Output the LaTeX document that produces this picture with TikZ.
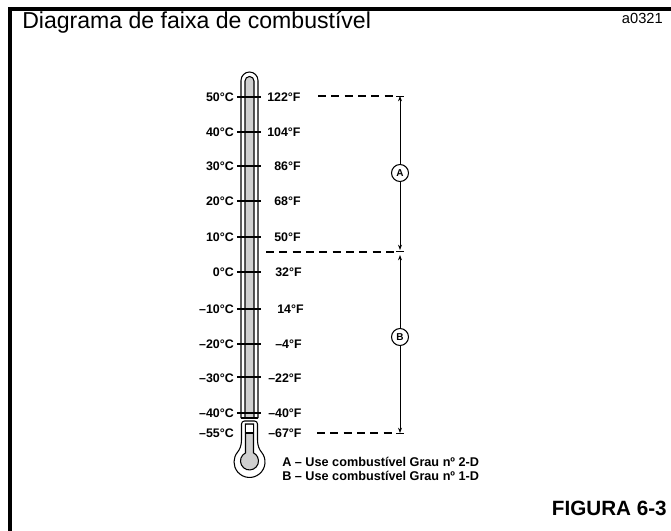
\documentclass[tikz,border=0pt]{standalone}
\usepackage{fontspec}
\setmainfont{Liberation Sans}
\usetikzlibrary{arrows.meta}
\begin{document}
\begin{tikzpicture}[x=0.75pt,y=-0.75pt]
\useasboundingbox (0,0) rectangle (671,531);
\tikzset{
  frameline/.style={line width=2.3pt},
  clab/.style={anchor=east, inner sep=0pt, font=\bfseries\fontsize{9.3}{11}\selectfont},
  flab/.style={anchor=west, inner sep=0pt, font=\bfseries\fontsize{9.3}{11}\selectfont},
  tickline/.style={line width=1.1pt},
  tube/.style={line width=0.8pt},
  guide/.style={dash pattern=on 6pt off 4pt, line width=0.8pt},
  dimline/.style={line width=0.6pt},
  tipstyle/.style={>={Stealth[length=4pt,width=3pt]}},
  lettercirc/.style={circle, draw, fill=white, minimum size=12.75pt, inner sep=0pt, line width=0.8pt, font=\bfseries\fontsize{7.5}{8}\selectfont},
  stipple/.style={fill=gray!38}
}
% frame
\draw[frameline] (10,531) -- (10,9) -- (671,9);
% title texts
\node[anchor=base west, inner sep=0pt, font=\fontsize{17.3}{20}\selectfont] (title) at (22,29) {Diagrama de faixa de combustível};
\node[anchor=base east, inner sep=0pt, font=\fontsize{11}{13}\selectfont] (code) at (663,24) {a0321};
% thermometer tube
\draw[tube, fill=white] (241,418) -- (241,80.5) arc[start angle=180, end angle=360, radius=8.5] -- (258,418);
\draw[tube, stipple] (245,418) -- (245,81) arc[start angle=180, end angle=360, radius=4.5] -- (254,418) -- cycle;
\foreach \yy in {97,132,166,201,237,272,309,344,377,413}
  \draw[tickline] (237,\yy) -- (261,\yy);
\draw[tickline] (241,418) -- (258,418);
% bulb
\draw[tube, fill=white] (241.5,440) -- (241.5,424) arc[start angle=180, end angle=270, radius=3] -- (254.5,421) arc[start angle=270, end angle=360, radius=3] -- (257.5,440) .. controls (257.5,446) and (259.5,449.7) .. (261.4,452) arc[start angle=-40, end angle=220, radius=15.5] .. controls (239.5,449.7) and (241.5,446) .. cycle;
\draw[tube, stipple] (245.5,424) -- (245.5,452.9) arc[start angle=243.6, end angle=-63.6, radius=9] -- (253.5,424) -- cycle;
\fill[white] (246,424.5) rectangle (253,433);
\draw[tube] (245.5,433) -- (253.5,433);
% Celsius labels
\node[clab] (c50) at (234,97) {50°C};
\node[clab] (c40) at (234,132) {40°C};
\node[clab] (c30) at (234,166) {30°C};
\node[clab] (c20) at (234,201) {20°C};
\node[clab] (c10) at (234,237) {10°C};
\node[clab] (c0) at (234,272) {0°C};
\node[clab] (cm10) at (234,309) {–10°C};
\node[clab] (cm20) at (234,344) {–20°C};
\node[clab] (cm30) at (234,378) {–30°C};
\node[clab] (cm40) at (234,413) {–40°C};
\node[clab] (cm55) at (234,433) {–55°C};
% Fahrenheit labels
\node[flab] (f122) at (267,97) {122°F};
\node[flab] (f104) at (267,132) {104°F};
\node[flab] (f86) at (274,166) {86°F};
\node[flab] (f68) at (274,201) {68°F};
\node[flab] (f50) at (274,237) {50°F};
\node[flab] (f32) at (275,272) {32°F};
\node[flab] (f14) at (277,309) {14°F};
\node[flab] (fm4) at (275,344) {–4°F};
\node[flab] (fm22) at (268,378) {–22°F};
\node[flab] (fm40) at (268,413) {–40°F};
\node[flab] (fm67) at (268,433) {–67°F};
% guide lines and dimension
\coordinate (g1) at (318,96);
\coordinate (g2) at (266,252);
\coordinate (g3) at (317,433);
\coordinate (tA) at (400,96);
\coordinate (mA) at (400,250);
\coordinate (tB) at (400,255);
\coordinate (bB) at (400,433);
\draw[guide] (g1) -- (396,96);
\draw[guide] (g2) -- (395,252);
\draw[guide] (g3) -- (395,433);
\draw[dimline] (396,96) -- (404,96);
\draw[dimline] (396,251.5) -- (404,251.5);
\draw[dimline] (396,433) -- (404,433);
\node[lettercirc] (cA) at (400,173) {A};
\node[lettercirc] (cB) at (400,337) {B};
\draw[dimline, tipstyle, <-] (tA) -- (cA);
\draw[dimline, tipstyle, ->] (cA) -- (mA);
\draw[dimline, tipstyle, <-] (tB) -- (cB);
\draw[dimline, tipstyle, ->] (cB) -- (bB);
% legend
\node[anchor=base west, inner sep=0pt, font=\bfseries\fontsize{9.5}{11}\selectfont] (legA) at (282,466) {A – Use combustível Grau nº 2-D};
\node[anchor=base west, inner sep=0pt, font=\bfseries\fontsize{9.5}{11}\selectfont] (legB) at (282,480) {B – Use combustível Grau nº 1-D};
\node[anchor=base east, inner sep=0pt, font=\bfseries\fontsize{15.5}{18}\selectfont] (fig) at (667,515) {FIGURA 6-3};
\end{tikzpicture}
\end{document}
